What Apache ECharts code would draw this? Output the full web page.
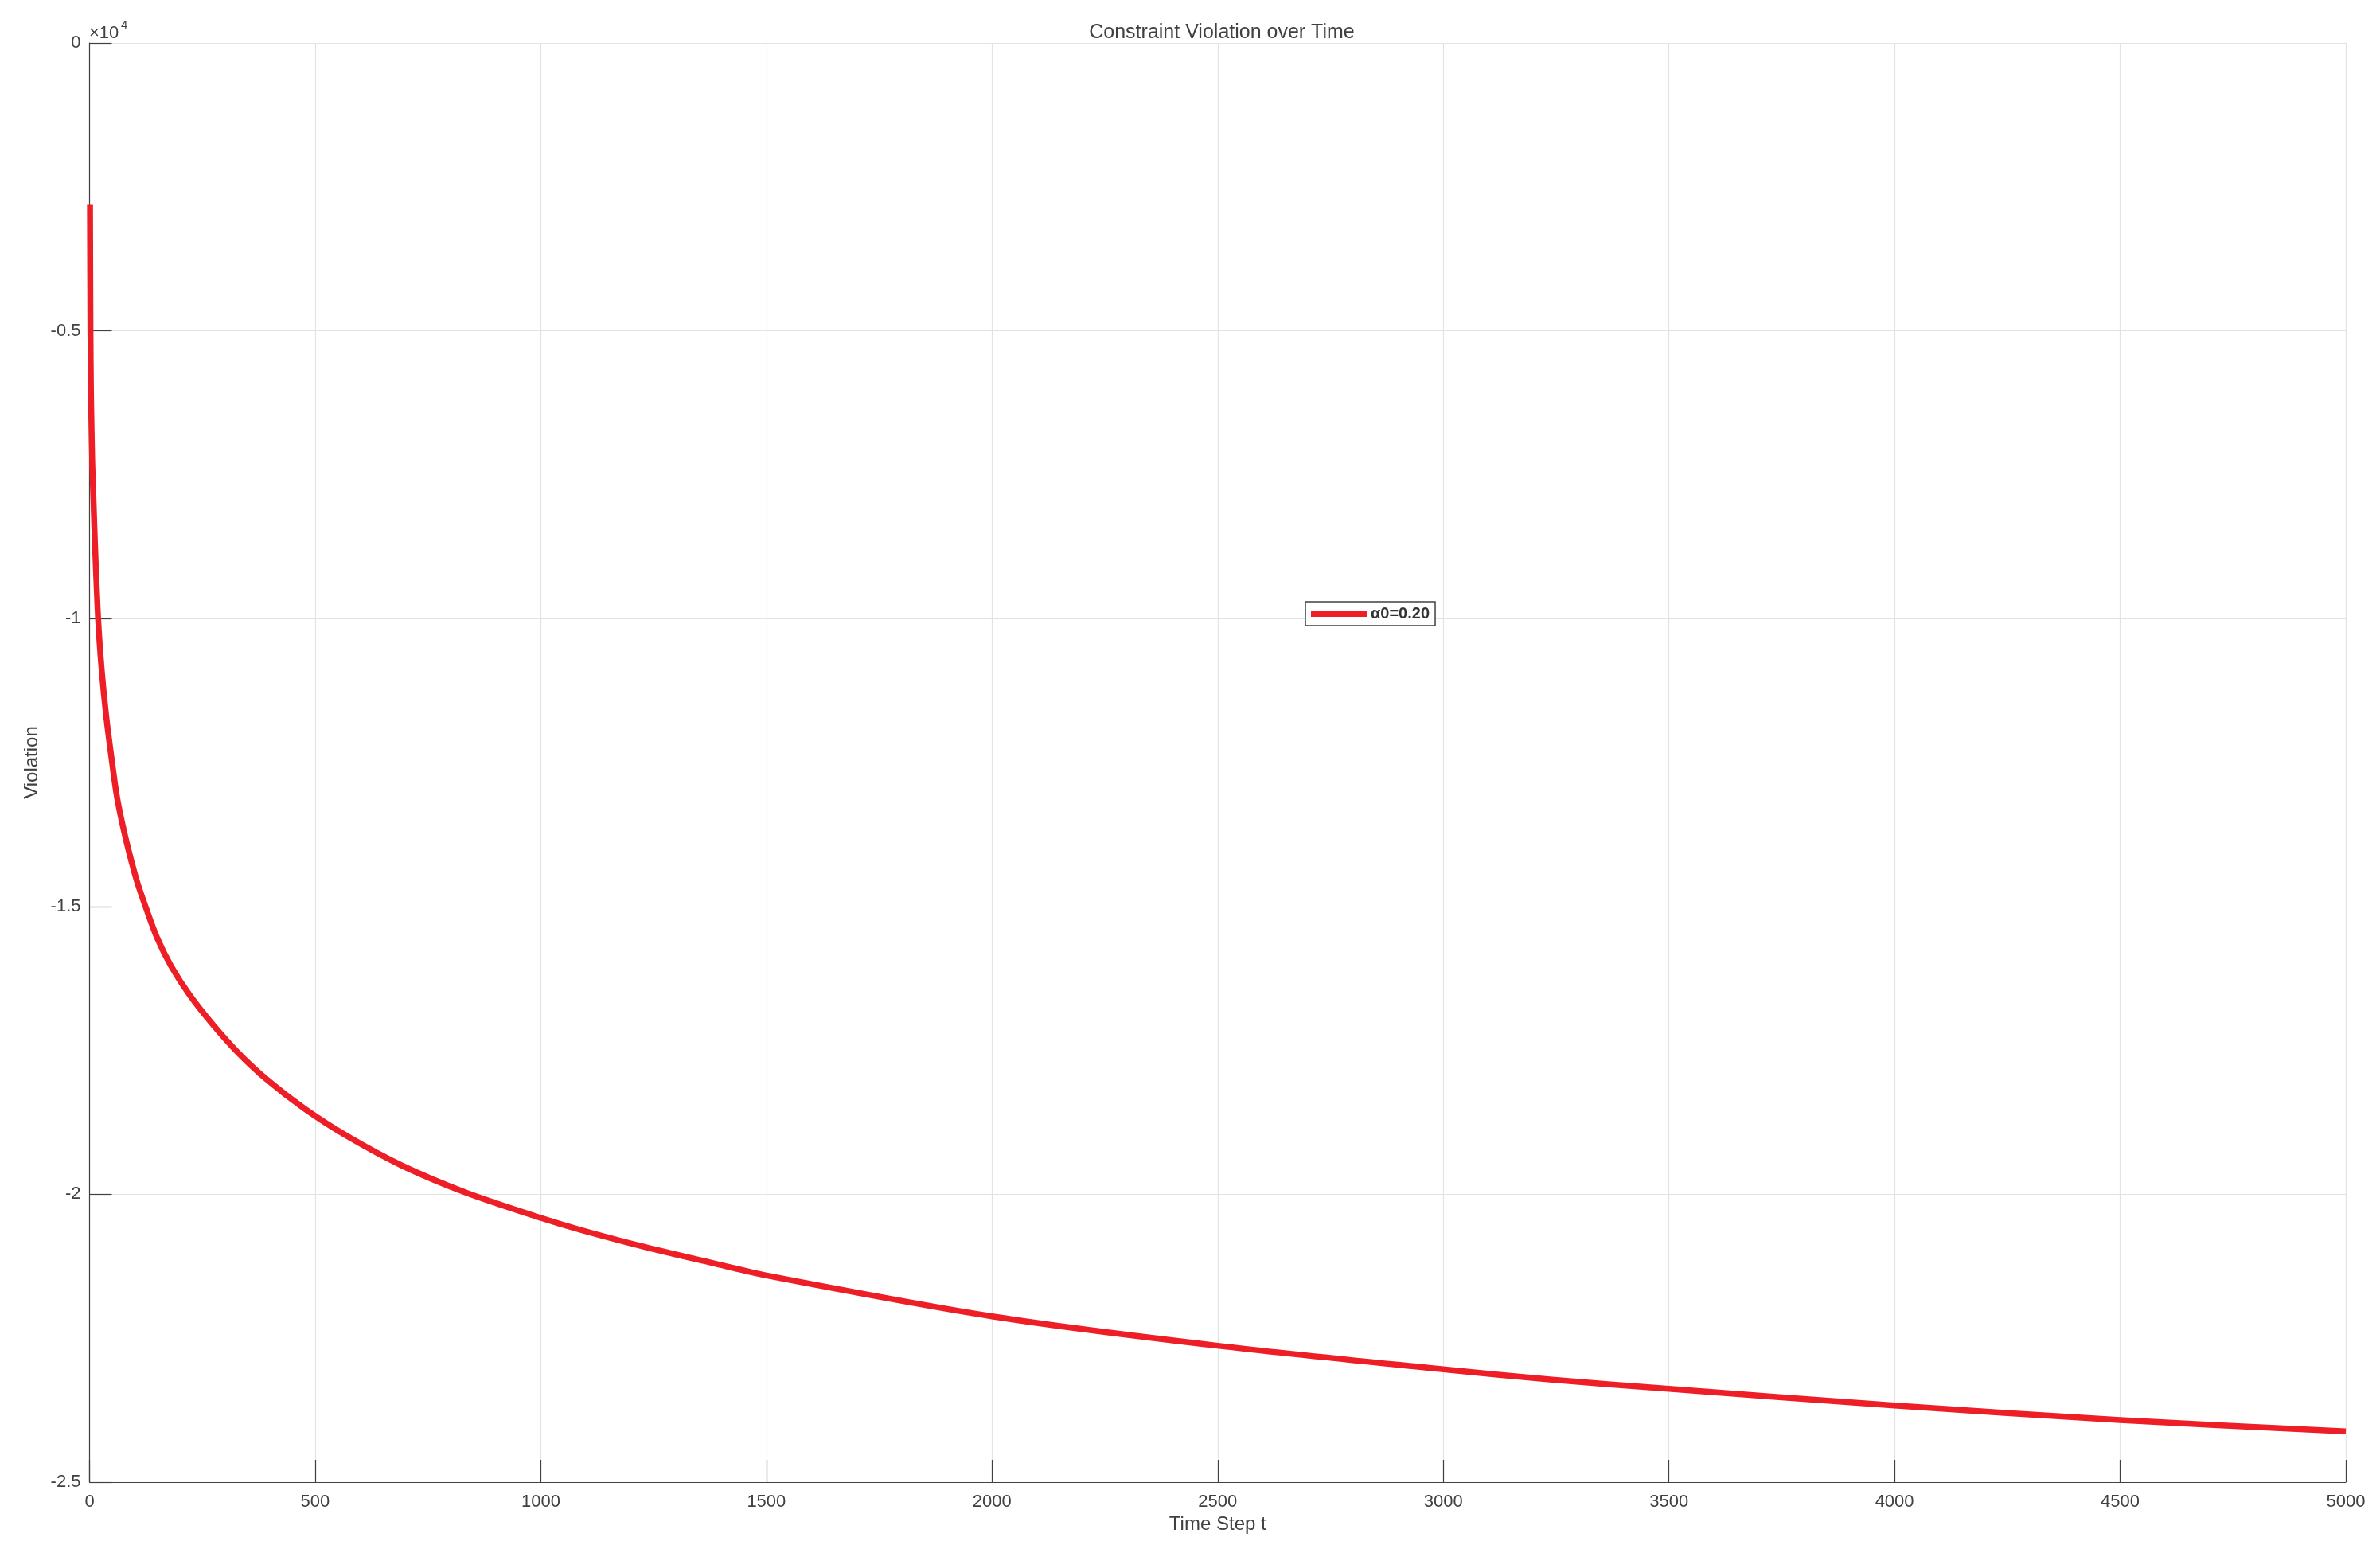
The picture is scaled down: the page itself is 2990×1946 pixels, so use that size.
<!DOCTYPE html>
<html>
<head>
<meta charset="utf-8">
<title>Constraint Violation over Time</title>
<script src="https://cdn.jsdelivr.net/npm/echarts@6/dist/echarts.min.js"></script>
<style>
  html, body { margin: 0; padding: 0; background: #fff; }
  #chart { width: 2990px; height: 1946px; }
</style>
</head>
<body>
<div id="chart"></div>
<script>
// time steps and violation values
const steps = [1, 2, 3, 4, 6, 9, 12, 19, 27, 37, 50, 60, 73, 88, 105, 124, 150, 181, 222,
  271, 328, 395, 476, 571, 692, 834, 1000, 1089, 1233, 1389, 1500, 2000, 2500,
  3000, 3241, 3500, 4000, 4500, 5000];
const violation = [-2800, -5000, -6000, -6500, -7300, -8000, -8700, -10000, -10900, -11700,
  -12500, -13060, -13575, -14070, -14560, -15000, -15550, -16040, -16540,
  -17030, -17530, -18020, -18510, -18990, -19500, -19970, -20410, -20620,
  -20920, -21210, -21410, -22120, -22630,
  -23040, -23220, -23380, -23670, -23920, -24120];
const xTicks = [0, 500, 1000, 1500, 2000, 2500, 3000, 3500, 4000, 4500, 5000];
const yTicks = [-25000, -20000, -15000, -10000, -5000, 0];
const seriesName = 'α0=0.20';

const FONT = '"Liberation Sans", Arial, Helvetica, sans-serif';
const TEXT = '#404040';
const AXIS = '#404040';
const GRID = '#e3e3e3';
const RED = '#ee1e26';

const chart = echarts.init(document.getElementById('chart'), null, { renderer: 'canvas' });

const points = steps.map((t, i) => [t, violation[i]]);

const option = {
  backgroundColor: '#ffffff',
  animation: false,
  textStyle: { fontFamily: FONT },
  title: {
    text: 'Constraint Violation over Time',
    left: 1530,
    textAlign: 'center',
    top: 24,
    textStyle: { fontFamily: FONT, fontSize: 25, fontWeight: 'normal', color: TEXT },
  },
  grid: {
    left: 112.5,
    right: 43,
    top: 54,
    bottom: 84,
    containLabel: false,
  },
  legend: {
    data: [seriesName],
    left: 1640,
    top: 756,
    orient: 'horizontal',
    icon: 'rect',
    itemWidth: 70,
    itemHeight: 8,
    padding: [5, 7, 5, 7],
    borderColor: '#404040',
    borderWidth: 1.5,
    borderRadius: 0,
    backgroundColor: '#ffffff',
    textStyle: { fontFamily: FONT, fontSize: 20, fontWeight: 'bold', color: '#333333' },
  },
  xAxis: {
    type: 'value',
    min: xTicks[0],
    max: xTicks[xTicks.length - 1],
    interval: 500,
    name: 'Time Step t',
    nameLocation: 'middle',
    nameGap: 41,
    nameTextStyle: { fontFamily: FONT, fontSize: 24, color: TEXT },
    axisLine: { show: true, onZero: false, lineStyle: { color: AXIS, width: 1.2 } },
    axisTick: { show: true, inside: true, length: 28, lineStyle: { color: AXIS, width: 1.2 } },
    axisLabel: {
      margin: 14,
      fontFamily: FONT,
      fontSize: 22,
      color: TEXT,
      formatter: (v) => String(v),
    },
    splitLine: { show: true, lineStyle: { color: GRID, width: 1.2 } },
  },
  yAxis: {
    type: 'value',
    min: yTicks[0],
    max: yTicks[yTicks.length - 1],
    interval: 5000,
    name: 'Violation',
    nameLocation: 'middle',
    nameGap: 60,
    nameRotate: 90,
    nameTextStyle: { fontFamily: FONT, fontSize: 24, color: TEXT },
    axisLine: { show: true, onZero: false, lineStyle: { color: AXIS, width: 1.2 } },
    axisTick: { show: true, inside: true, length: 28, lineStyle: { color: AXIS, width: 1.2 } },
    axisLabel: {
      margin: 11,
      fontFamily: FONT,
      fontSize: 22,
      color: TEXT,
      formatter: (v) => String(v / 10000),
    },
    splitLine: { show: true, lineStyle: { color: GRID, width: 1.2 } },
  },
  graphic: [
    {
      type: 'text',
      left: 112,
      top: 31,
      style: { text: '×10', fontFamily: FONT, fontSize: 22, fill: TEXT },
    },
    {
      type: 'text',
      left: 152,
      top: 24,
      style: { text: '4', fontFamily: FONT, fontSize: 15, fill: TEXT },
    },
  ],
  series: [
    {
      name: seriesName,
      type: 'line',
      data: points,
      showSymbol: false,
      smooth: 0.3,
      clip: true,
      lineStyle: { color: RED, width: 7.5, cap: 'butt', join: 'round' },
      itemStyle: { color: RED },
    },
  ],
};

chart.setOption(option);
</script>
</body>
</html>
